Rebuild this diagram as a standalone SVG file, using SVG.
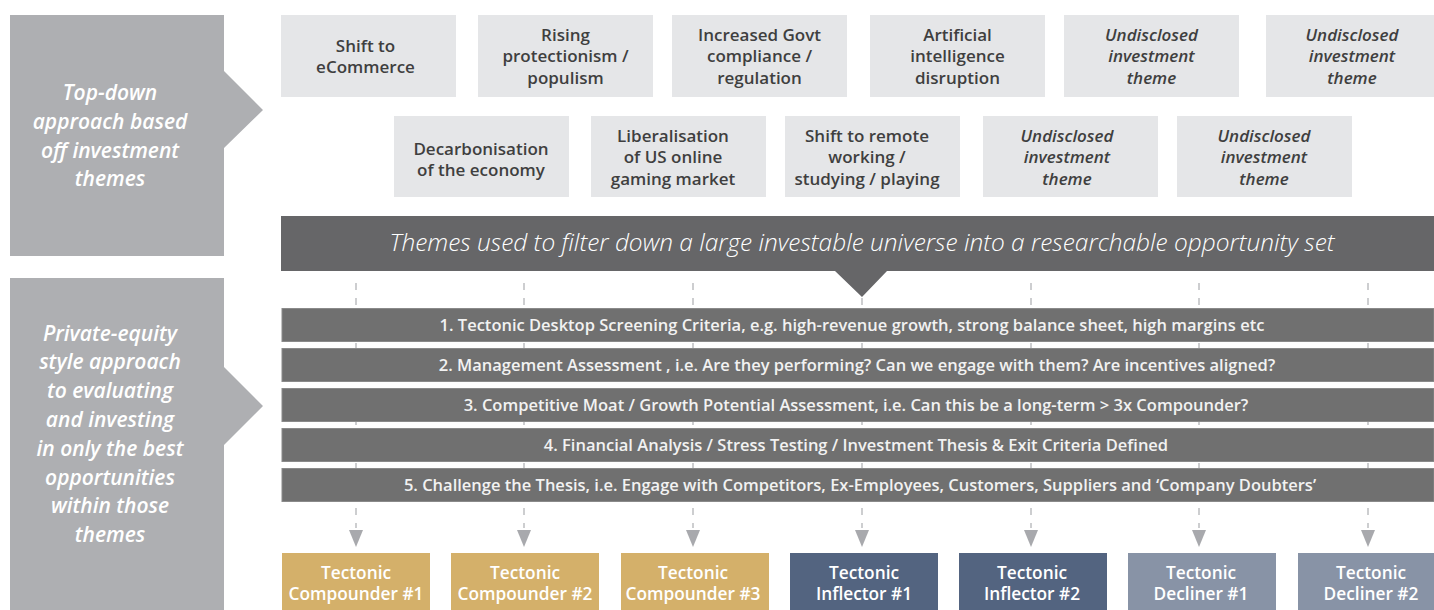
<svg xmlns="http://www.w3.org/2000/svg" width="1434" height="610" viewBox="0 0 1434 610">
  <defs>
    <style>
      .panel { fill: #aeafb2; }
      .panel-text { font-family: "Open Sans", "Liberation Sans", sans-serif; font-style: italic; font-weight: 600; font-size: 21px; fill: #ffffff; text-anchor: middle; }
      .theme { fill: #e5e6e8; }
      .theme-text { font-family: "Open Sans", "Liberation Sans", sans-serif; font-weight: 600; font-size: 17px; fill: #3f3f3f; text-anchor: middle; }
      .theme-text.undisclosed { font-style: italic; }
      .banner { fill: #666668; }
      .banner-text { font-family: "Open Sans", "Liberation Sans", sans-serif; font-style: italic; font-weight: 300; font-size: 24px; fill: #ffffff; text-anchor: middle; }
      .step { fill: #707070; stroke: #8a8a8a; stroke-width: 1; }
      .step-text { font-family: "Open Sans", "Liberation Sans", sans-serif; font-weight: 600; font-size: 16.5px; fill: #f2f2f2; text-anchor: middle; }
      .guide { stroke: #b3b4b7; stroke-width: 1.3; stroke-dasharray: 7 8; fill: none; }
      .arrowhead { fill: #a8a9ad; }
      .result-text { font-family: "Open Sans", "Liberation Sans", sans-serif; font-weight: 600; font-size: 17.3px; fill: #ffffff; text-anchor: middle; }
      .compounder { fill: #d4b06a; }
      .inflector { fill: #536480; }
      .decliner { fill: #8893a6; }
    </style>
  </defs>

  <rect width="1434" height="610" fill="#ffffff"/>

  <!-- Left-hand approach panels -->
  <g id="panel-top-down">
    <polygon class="panel" points="10,15 224,15 224,71 263,110 224,148 224,256 10,256"/>
    <text class="panel-text" x="110" y="100">Top-down</text>
    <text class="panel-text" x="110" y="129">approach based</text>
    <text class="panel-text" x="110" y="158">off investment</text>
    <text class="panel-text" x="110" y="186">themes</text>
  </g>
  <g id="panel-private-equity">
    <polygon class="panel" points="10,278 224,278 224,367 263,406 224,445 224,610 10,610"/>
    <text class="panel-text" x="110" y="341">Private-equity</text>
    <text class="panel-text" x="110" y="369">style approach</text>
    <text class="panel-text" x="110" y="398">to evaluating</text>
    <text class="panel-text" x="110" y="427">and investing</text>
    <text class="panel-text" x="110" y="456">in only the best</text>
    <text class="panel-text" x="110" y="485">opportunities</text>
    <text class="panel-text" x="110" y="513">within those</text>
    <text class="panel-text" x="110" y="542">themes</text>
  </g>

  <!-- Investment themes, first row -->
  <g id="theme-ecommerce">
    <rect class="theme" x="281" y="15" width="175" height="82"/>
    <text class="theme-text" x="365.5" y="52">Shift to</text>
    <text class="theme-text" x="365.5" y="73">eCommerce</text>
  </g>
  <g id="theme-protectionism">
    <rect class="theme" x="478" y="15" width="175" height="82"/>
    <text class="theme-text" x="565.5" y="41">Rising</text>
    <text class="theme-text" x="565.5" y="62">protectionism /</text>
    <text class="theme-text" x="565.5" y="84">populism</text>
  </g>
  <g id="theme-regulation">
    <rect class="theme" x="672" y="15" width="175" height="82"/>
    <text class="theme-text" x="759.5" y="41">Increased Govt</text>
    <text class="theme-text" x="759.5" y="62">compliance /</text>
    <text class="theme-text" x="759.5" y="84">regulation</text>
  </g>
  <g id="theme-ai">
    <rect class="theme" x="870" y="15" width="175" height="82"/>
    <text class="theme-text" x="957.5" y="41">Artificial</text>
    <text class="theme-text" x="957.5" y="62">intelligence</text>
    <text class="theme-text" x="957.5" y="84">disruption</text>
  </g>
  <g id="theme-undisclosed-1">
    <rect class="theme" x="1064" y="15" width="175" height="82"/>
    <text class="theme-text undisclosed" x="1151.5" y="41">Undisclosed</text>
    <text class="theme-text undisclosed" x="1151.5" y="62">investment</text>
    <text class="theme-text undisclosed" x="1151.5" y="84">theme</text>
  </g>
  <g id="theme-undisclosed-2">
    <rect class="theme" x="1266" y="15" width="175" height="82"/>
    <text class="theme-text undisclosed" x="1352" y="41">Undisclosed</text>
    <text class="theme-text undisclosed" x="1352" y="62">investment</text>
    <text class="theme-text undisclosed" x="1352" y="84">theme</text>
  </g>

  <!-- Investment themes, second row -->
  <g id="theme-decarbonisation">
    <rect class="theme" x="394" y="116" width="175" height="81"/>
    <text class="theme-text" x="481" y="155">Decarbonisation</text>
    <text class="theme-text" x="481" y="176">of the economy</text>
  </g>
  <g id="theme-online-gaming">
    <rect class="theme" x="591" y="116" width="175" height="81"/>
    <text class="theme-text" x="673" y="142">Liberalisation</text>
    <text class="theme-text" x="673" y="163">of US online</text>
    <text class="theme-text" x="673" y="185">gaming market</text>
  </g>
  <g id="theme-remote">
    <rect class="theme" x="785" y="116" width="175" height="81"/>
    <text class="theme-text" x="867" y="142">Shift to remote</text>
    <text class="theme-text" x="867" y="163">working /</text>
    <text class="theme-text" x="867" y="185">studying / playing</text>
  </g>
  <g id="theme-undisclosed-3">
    <rect class="theme" x="983" y="116" width="175" height="81"/>
    <text class="theme-text undisclosed" x="1067" y="142">Undisclosed</text>
    <text class="theme-text undisclosed" x="1067" y="163">investment</text>
    <text class="theme-text undisclosed" x="1067" y="185">theme</text>
  </g>
  <g id="theme-undisclosed-4">
    <rect class="theme" x="1177" y="116" width="175" height="81"/>
    <text class="theme-text undisclosed" x="1264" y="142">Undisclosed</text>
    <text class="theme-text undisclosed" x="1264" y="163">investment</text>
    <text class="theme-text undisclosed" x="1264" y="185">theme</text>
  </g>

  <!-- Connectors: dashed guides from the banner to each outcome -->
  <g id="connectors">
    <line class="guide" x1="356" y1="283" x2="356" y2="528"/>
    <line class="guide" x1="524" y1="283" x2="524" y2="528"/>
    <line class="guide" x1="693" y1="283" x2="693" y2="528"/>
    <line class="guide" x1="862" y1="298" x2="862" y2="528"/>
    <line class="guide" x1="1031" y1="283" x2="1031" y2="528"/>
    <line class="guide" x1="1199" y1="283" x2="1199" y2="528"/>
    <line class="guide" x1="1368" y1="283" x2="1368" y2="528"/>
    <polygon class="arrowhead" points="349,530 363,530 356,547"/>
    <polygon class="arrowhead" points="517,530 531,530 524,547"/>
    <polygon class="arrowhead" points="686,530 700,530 693,547"/>
    <polygon class="arrowhead" points="855,530 869,530 862,547"/>
    <polygon class="arrowhead" points="1024,530 1038,530 1031,547"/>
    <polygon class="arrowhead" points="1192,530 1206,530 1199,547"/>
    <polygon class="arrowhead" points="1361,530 1375,530 1368,547"/>
  </g>

  <!-- Filtering banner -->
  <g id="banner">
    <polygon class="banner" points="281,216 1434,216 1434,271 887,271 862,297 835,271 281,271"/>
    <text class="banner-text" x="862" y="251" textLength="945" lengthAdjust="spacingAndGlyphs">Themes used to filter down a large investable universe into a researchable opportunity set</text>
  </g>

  <!-- Evaluation steps -->
  <g id="step-1">
    <rect class="step" x="282" y="308.5" width="1152" height="33"/>
    <text class="step-text" x="852" y="331">1. Tectonic Desktop Screening Criteria, e.g. high-revenue growth, strong balance sheet, high margins etc</text>
  </g>
  <g id="step-2">
    <rect class="step" x="282" y="348.5" width="1152" height="33"/>
    <text class="step-text" x="857" y="371">2. Management Assessment , i.e. Are they performing? Can we engage with them? Are incentives aligned?</text>
  </g>
  <g id="step-3">
    <rect class="step" x="282" y="388.5" width="1152" height="33"/>
    <text class="step-text" x="856" y="411">3. Competitive Moat / Growth Potential Assessment, i.e. Can this be a long-term &gt; 3x Compounder?</text>
  </g>
  <g id="step-4">
    <rect class="step" x="282" y="428.5" width="1152" height="33"/>
    <text class="step-text" x="856" y="451">4. Financial Analysis / Stress Testing / Investment Thesis &amp; Exit Criteria Defined</text>
  </g>
  <g id="step-5">
    <rect class="step" x="282" y="468.5" width="1152" height="33"/>
    <text class="step-text" x="860" y="491">5. Challenge the Thesis, i.e. Engage with Competitors, Ex-Employees, Customers, Suppliers and ‘Company Doubters’</text>
  </g>

  <!-- Outcomes -->
  <g id="compounder-1">
    <rect class="compounder" x="282" y="553" width="148" height="57"/>
    <text class="result-text" x="356" y="579">Tectonic</text>
    <text class="result-text" x="356" y="600">Compounder #1</text>
  </g>
  <g id="compounder-2">
    <rect class="compounder" x="451" y="553" width="148" height="57"/>
    <text class="result-text" x="525" y="579">Tectonic</text>
    <text class="result-text" x="525" y="600">Compounder #2</text>
  </g>
  <g id="compounder-3">
    <rect class="compounder" x="621" y="553" width="148" height="57"/>
    <text class="result-text" x="693" y="579">Tectonic</text>
    <text class="result-text" x="693" y="600">Compounder #3</text>
  </g>
  <g id="inflector-1">
    <rect class="inflector" x="790" y="553" width="148" height="57"/>
    <text class="result-text" x="864" y="579">Tectonic</text>
    <text class="result-text" x="864" y="600">Inflector #1</text>
  </g>
  <g id="inflector-2">
    <rect class="inflector" x="959" y="553" width="148" height="57"/>
    <text class="result-text" x="1032" y="579">Tectonic</text>
    <text class="result-text" x="1032" y="600">Inflector #2</text>
  </g>
  <g id="decliner-1">
    <rect class="decliner" x="1128" y="553" width="148" height="57"/>
    <text class="result-text" x="1201" y="579">Tectonic</text>
    <text class="result-text" x="1201" y="600">Decliner #1</text>
  </g>
  <g id="decliner-2">
    <rect class="decliner" x="1298" y="553" width="148" height="57"/>
    <text class="result-text" x="1371" y="579">Tectonic</text>
    <text class="result-text" x="1371" y="600">Decliner #2</text>
  </g>
</svg>
